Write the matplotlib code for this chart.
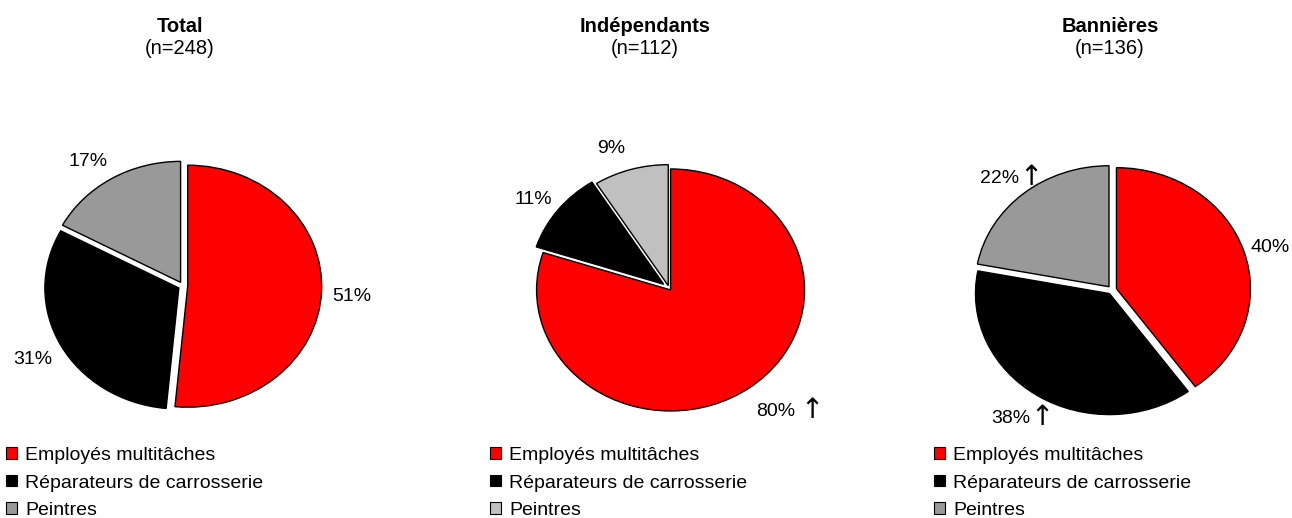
import numpy as np
import matplotlib
matplotlib.use("Agg")
import matplotlib.pyplot as plt
from matplotlib.patches import Patch
from matplotlib.transforms import ScaledTranslation

plt.rcParams['font.family'] = ['Liberation Sans', 'DejaVu Sans']

# ---- data ----
categories = ['Employés multitâches', 'Réparateurs de carrosserie', 'Peintres']
groups = ['Total', 'Indépendants', 'Bannières']
sample_sizes = [248, 112, 136]
total_values = [51, 31, 17]
independants_values = [80, 11, 9]
bannieres_values = [40, 38, 22]
total_labels = ['51%', '31%', '17%']
independants_labels = ['80%', '11%', '9%']
bannieres_labels = ['40%', '38%', '22%']
# significant-increase arrows (↑) next to labels
total_arrows = [False, False, False]
independants_arrows = [True, False, False]
bannieres_arrows = [False, True, True]

# ---- styles ----
W, H = 1292, 518
fig = plt.figure(figsize=(W / 100, H / 100), dpi=100)
fig.patch.set_facecolor('white')

RX, RY = 134, 121  # pie radii in pixels (slightly elliptical, as in the original)
FS = 14
DY = 1.23  # vertical label distance factor

panels = [
    dict(values=total_values, labels=total_labels, arrows=total_arrows, center=(183, 286),
         colors=['#FF0000', '#000000', '#999999'], explode=[0.035, 0.035, 0.035],
         dx=[1.26, 1.27, 1.38], arrow_gap=[0, 0, 0], title_x=180, legend_x=6),
    dict(values=independants_values, labels=independants_labels, arrows=independants_arrows,
         center=(669, 288),
         colors=['#FF0000', '#000000', '#C0C0C0'], explode=[0.02, 0.05, 0.02],
         dx=[1.36, 1.28, 1.55], arrow_gap=[5, 0, 0], title_x=645, legend_x=490),
    dict(values=bannieres_values, labels=bannieres_labels, arrows=bannieres_arrows,
         center=(1112, 290),
         colors=['#FF0000', '#000000', '#999999'], explode=[0.035, 0.035, 0.035],
         dx=[1.24, 1.41, 1.32], arrow_gap=[0, 0, 1], title_x=1110, legend_x=934),
]

L = 1.6
label_shift = ScaledTranslation(0, -3 / 100, fig.dpi_scale_trans)
for g, n, p in zip(groups, sample_sizes, panels):
    cx, cy = p['center']
    w_px, h_px = 2 * L * RX, 2 * L * RY
    ax = fig.add_axes([(cx - w_px / 2) / W, 1 - (cy + h_px / 2) / H, w_px / W, h_px / H])
    wedges, texts = ax.pie(p['values'], labels=p['labels'], colors=p['colors'],
                           explode=p['explode'], startangle=90, counterclock=False,
                           wedgeprops=dict(edgecolor='black', linewidth=1.0),
                           textprops=dict(fontsize=FS, color='black'))
    ax.set_aspect('auto')
    ax.set_xlim(-L, L)
    ax.set_ylim(-L, L)
    ax.axis('off')
    for w, t, dx, arrow, gap in zip(wedges, texts, p['dx'], p['arrows'], p['arrow_gap']):
        ang = np.deg2rad((w.theta1 + w.theta2) / 2)
        t.set_position((dx * np.cos(ang), DY * np.sin(ang)))
        t.set_transform(ax.transData + label_shift)
        t.set_ha('center')
        t.set_va('center')
        if arrow:
            ax.annotate('↑', xy=(1, 0), xycoords=t, xytext=(gap, -4),
                        textcoords='offset pixels', ha='left', va='bottom',
                        fontsize=20, family=['DejaVu Sans'])

    fig.text(p['title_x'] / W, 1 - 32 / H, g, ha='center', va='baseline',
             fontsize=14.5, fontweight='bold')
    fig.text(p['title_x'] / W, 1 - 54 / H, f'(n={n})', ha='center', va='baseline',
             fontsize=14.5)

    handles = [Patch(facecolor=c, edgecolor='black', linewidth=0.8) for c in p['colors']]
    fig.legend(handles, categories, loc='upper left',
               bbox_to_anchor=(p['legend_x'] / W, 1 - 447 / H),
               frameon=False, fontsize=FS, borderpad=0, borderaxespad=0,
               handlelength=0.55, handleheight=0.55, handletextpad=0.45,
               labelspacing=0.54)

fig.savefig('out.png', dpi=100, facecolor='white')
